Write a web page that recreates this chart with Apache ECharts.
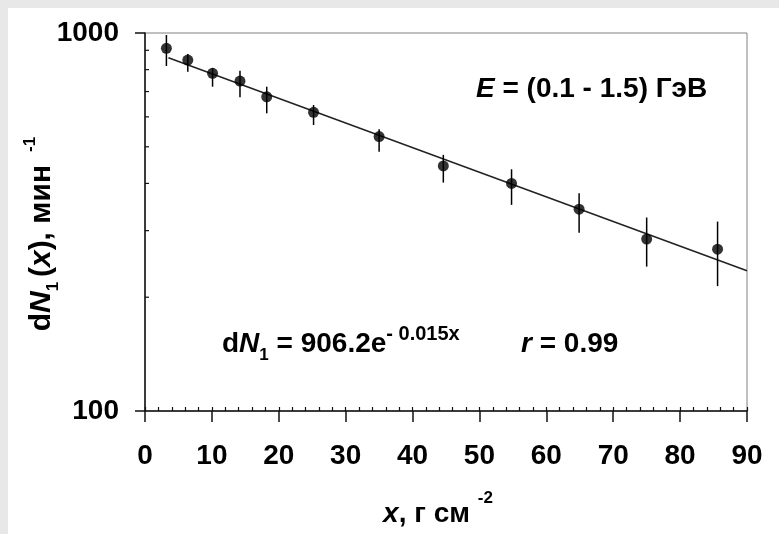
<!DOCTYPE html>
<html>
<head>
<meta charset="utf-8">
<script src="https://cdn.jsdelivr.net/npm/echarts@6/dist/echarts.min.js"></script>
<style>
  html, body { margin: 0; padding: 0; background: #ffffff; }
  #chart { width: 779px; height: 534px; }
</style>
</head>
<body>
<div id="chart"></div>
<script>
// Absorber depth, g/cm^2
const depth   = [3.2, 6.4, 10.1, 14.2, 18.2, 25.2, 35.0, 44.6, 54.8, 64.9, 75.0, 85.6];
// Count rate dN1, 1/min
const rate    = [911, 848, 782, 746, 678, 617, 532, 445, 400, 342, 285, 268];
// Error bar limits
const errLow  = [818, 790, 721, 676, 613, 571, 485, 402, 351, 296, 241, 214];
const errHigh = [988, 880, 807, 795, 721, 645, 556, 476, 436, 377, 325, 317];
// Exponential fit dN1 = 906.2 e^(-0.015x): straight on the log axis, so two ends suffice
const fitX = [3.5, 90];
const fitY = [860, 235];
// Axis ticks
const xTicks = [0, 10, 20, 30, 40, 50, 60, 70, 80, 90];
const yTicks = [100, 1000];
const yMinorTicks = [200, 300, 400, 500, 600, 700, 800, 900];

const FONT = '"Liberation Sans", Arial, sans-serif';
const chart = echarts.init(document.getElementById('chart'), null, { renderer: 'canvas' });

const main = { fontFamily: FONT, fontWeight: 'bold', fontSize: 28, color: '#000', lineHeight: 40, verticalAlign: 'middle' };
const mainI = Object.assign({}, main, { fontStyle: 'italic' });
const sup = { fontFamily: FONT, fontWeight: 'bold', fontSize: 17, color: '#000', lineHeight: 16, verticalAlign: 'top' };
const sub = { fontFamily: FONT, fontWeight: 'bold', fontSize: 17, color: '#000', lineHeight: 26, verticalAlign: 'bottom' };

// Slightly larger type for the vertical axis title
const yMain = Object.assign({}, main, { fontSize: 30 });
const yMainI = Object.assign({}, mainI, { fontSize: 30 });

const option = {
  animation: false,
  backgroundColor: '#ffffff',
  grid: {
    left: 145, right: 32, top: 33, bottom: 123,
    show: true, borderColor: '#808080', borderWidth: 1, backgroundColor: 'transparent'
  },
  xAxis: [
    {
      type: 'value', position: 'bottom', min: xTicks[0], max: xTicks[xTicks.length - 1], interval: 10,
      axisLine: { show: true, onZero: false, lineStyle: { color: '#111', width: 1.5 } },
      axisTick: { show: true, inside: false, length: 11, lineStyle: { color: '#111', width: 1.5 } },
      axisLabel: { show: true, margin: 31, fontFamily: FONT, fontWeight: 'bold', fontSize: 28, lineHeight: 28, color: '#000' },
      splitLine: { show: false }
    },
    {
      type: 'value', position: 'bottom', min: 0, max: 90, interval: 2,
      axisLine: { show: false, onZero: false },
      axisTick: { show: true, inside: true, length: 4, lineStyle: { color: '#111', width: 1.2 } },
      axisLabel: { show: false },
      splitLine: { show: false }
    }
  ],
  yAxis: {
    type: 'log', logBase: 10, min: yTicks[0], max: yTicks[yTicks.length - 1],
    axisLine: { show: true, onZero: false, lineStyle: { color: '#111', width: 1.5 } },
    axisTick: { show: true, inside: false, length: 10, lineStyle: { color: '#111', width: 1.5 } },
    axisLabel: {
      margin: 26, fontFamily: FONT, fontWeight: 'bold', fontSize: 28, color: '#000',
      formatter: v => String(Math.round(v))
    },
    splitLine: { show: false },
    minorTick: { show: false }
  },
  graphic: [
    { type: 'rect', z: -10, shape: { x: 0, y: 0, width: 779, height: 8 }, style: { fill: '#e8e8e8' } },
    { type: 'rect', z: -10, shape: { x: 0, y: 0, width: 8, height: 534 }, style: { fill: '#e8e8e8' } },
    {
      type: 'text', x: 476, y: 89, z: 10,
      style: {
        text: '{i|E}{m| = (0.1 - 1.5) ГэВ}',
        align: 'left', verticalAlign: 'middle',
        rich: { i: mainI, m: main }
      }
    },
    {
      type: 'text', x: 222, y: 344, z: 10,
      style: {
        text: '{m|d}{i|N}{s|1}{m| = 906.2e}{p|- 0.015x}',
        align: 'left', verticalAlign: 'middle',
        rich: { m: main, i: mainI, s: sub, p: Object.assign({}, sup, { fontSize: 20 }) }
      }
    },
    {
      type: 'text', x: 521, y: 344, z: 10,
      style: {
        text: '{i|r}{m| = 0.99}',
        align: 'left', verticalAlign: 'middle',
        rich: { m: main, i: mainI }
      }
    },
    {
      type: 'text', x: 42, y: 234, z: 10, rotation: Math.PI / 2,
      style: {
        text: '{m|d}{i|N}{s|1 }{m|(}{i|x}{m|), мин }{p| -1}',
        align: 'center', verticalAlign: 'middle',
        rich: { m: yMain, i: yMainI, s: Object.assign({}, sub, { lineHeight: 22 }), p: sup }
      }
    },
    {
      type: 'text', x: 438, y: 514, z: 10,
      style: {
        text: '{i|x}{m|, г см }{p|-2}',
        align: 'center', verticalAlign: 'middle',
        rich: {
          i: Object.assign({}, mainI, { lineHeight: 48 }),
          m: Object.assign({}, main, { lineHeight: 48 }),
          p: sup
        }
      }
    }
  ],
  series: [
    {
      name: 'fit', type: 'line', xAxisIndex: 0, yAxisIndex: 0,
      data: fitX.map((x, i) => [x, fitY[i]]),
      symbol: 'none', silent: true, z: 2,
      lineStyle: { color: '#222', width: 1.5 }
    },
    {
      name: 'errors', type: 'custom', xAxisIndex: 0, yAxisIndex: 0, z: 3,
      data: depth.map((x, i) => [x, errLow[i], errHigh[i]]),
      encode: { x: 0, y: [1, 2] },
      renderItem: function (params, api) {
        const lo = api.coord([api.value(0), api.value(1)]);
        const hi = api.coord([api.value(0), api.value(2)]);
        return {
          type: 'line',
          shape: { x1: lo[0], y1: lo[1], x2: hi[0], y2: hi[1] },
          style: { stroke: '#000', lineWidth: 1.5 }
        };
      }
    },
    {
      name: 'dN1', type: 'scatter', xAxisIndex: 0, yAxisIndex: 0, z: 4,
      data: depth.map((x, i) => [x, rate[i]]),
      symbol: 'circle', symbolSize: 11,
      itemStyle: { color: '#000' }
    },
    {
      name: 'yMinorTicks', type: 'custom', xAxisIndex: 0, yAxisIndex: 0, z: 5, clip: false,
      data: yMinorTicks.map(v => [xTicks[0], v]),
      renderItem: function (params, api) {
        const p = api.coord([api.value(0), api.value(1)]);
        return {
          type: 'line',
          shape: { x1: p[0], y1: p[1], x2: p[0] + 4, y2: p[1] },
          style: { stroke: '#111', lineWidth: 1.2 }
        };
      }
    }
  ]
};

chart.setOption(option);
</script>
</body>
</html>
